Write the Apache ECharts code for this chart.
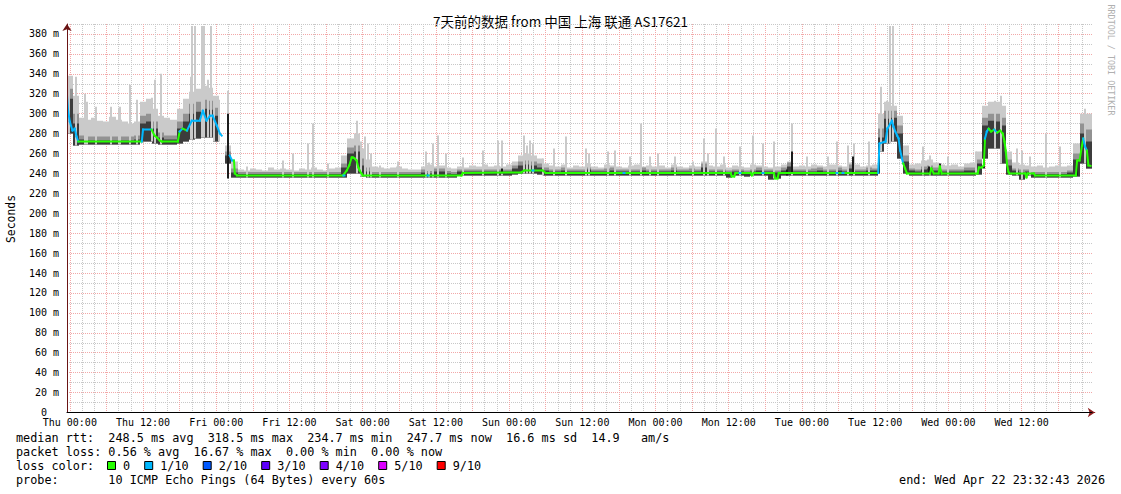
<!DOCTYPE html>
<html>
<head>
<meta charset="utf-8">
<script src="https://cdn.jsdelivr.net/npm/echarts@6/dist/echarts.min.js"></script>
<style>
html,body{margin:0;padding:0;background:#fff;}
#chart{width:1121px;height:494px;}
</style>
</head>
<body>
<div id="chart"></div>
<script>
// ---------------- DATA ----------------
const titleText = '7天前的数据 from 中国 上海 联通 AS17621';
const dayNames = ['Thu', 'Fri', 'Sat', 'Sun', 'Mon', 'Tue', 'Wed'];
// x unit: hours after Thu 00:00 ; data window starts at -0.46 h
// median rtt breakpoints [hour, ms]
const median = [
  [-0.45,318],[-0.28,303],[0,292],[0.44,283],[0.82,285],[1.1,277],[1.4,272],[11.8,272],[12.0,284],[13.4,284],[13.9,278],[14.3,276],[14.75,273],[15.1,272],[17.7,272],
  [18.0,282],[18.5,285],[19.2,283],[20.0,293],[20.8,293],[21.3,293],[21.8,303],[22.4,293],[23.0,298],[23.4,298],[24.1,288],[24.6,280],[24.9,278],[25.0,null],
  [26.2,258],[26.6,253],[26.9,253],[27.05,240],[27.4,238],[44.8,238],[45.4,243],[45.8,248],[46.2,256],[46.4,256],[46.7,255],[47.0,253],[47.3,246],[47.5,243],[47.8,240],[48.0,238],
  [64.2,238],[64.4,240.5],[74.0,241],[74.5,243],[77.5,243],[78.0,240.5],[108.3,240.5],[108.5,237],[108.9,237],[109.1,240.5],[111.6,240.5],[111.8,238],[112.1,240.5],
  [115.4,240.5],[115.6,235],[116.0,235],[116.2,240.5],[132.5,240.5],[132.7,270],[133.7,272],[134.0,285],[134.5,290],[134.75,293],[135.0,287],[135.3,282],[135.6,278],
  [135.85,275],[136.1,263],[136.4,255],[136.6,250],[136.9,245],[137.2,240],[141.0,240],[141.2,245],[141.6,240],[142.4,240],[142.6,247],[142.9,240],[148.8,240],
  [149.0,246],[149.5,246],[149.8,248],[150.0,275],[150.3,282],[150.6,285],[151.0,282],[151.5,284],[152.0,281],[152.5,283],[152.9,280],[153.2,272],[153.4,263],
  [153.6,250],[153.85,241.5],[154.0,240],[156.6,240],[156.8,236],[157.0,240],[158.0,240],[158.2,238],[164.9,238],[165.1,253],[165.5,253],[165.9,268],[166.1,275],
  [166.4,267],[166.7,263],[166.95,248],[167.3,247.7]
];
// hour ranges where packet loss was 1/10
const lossRanges = [[-0.5,1.45],[11.9,13.45],[18.1,18.6],[19.1,24.95],[26.1,26.95],[132.6,136.5],[150.1,150.7],[151.4,152.1],[166.05,166.75]];
// isolated 1/10 loss marks [hour, ms]
const lossDots = [[45.0,238],[58.7,238],[75.9,243],[90.8,240.5],[109.8,240.5],[113.6,240.5],[125.7,240.5],[126.7,240.5]];

// hourly smoke envelope (one value per hour, hour 0 = Thu 00:00)
const smokeLo = [
  280,268,269,269,269,269,269,269,269,269,269,269,272,272,270,269,269,269,270,272,274,275,276,276,
  272,null,250,236,236,236,236,236,236,236,236,236,236,236,236,236,236,236,236,236,236,236,240,240,
  237,236,236,236,236,236,236,236,236,236,236,236,236,236,236,236,238,238,238,238,238,238,238,238,
  238,239,240,240,240,239,238,238,238,238,238,238,238,238,238,238,238,238,238,238,238,238,238,238,
  238,238,238,238,238,238,238,238,238,238,238,238,236,238,238,237,238,238,238,234,235,238,238,238,
  238,238,238,238,238,238,238,238,238,238,238,238,238,262,270,272,255,240,238,238,238,238,238,238,
  238,238,238,238,238,239,255,265,265,250,239,238,234,238,236,236,236,236,236,236,236,237,250,245
];
const smokeDark = [
  315,290,274,273,273,273,273,273,273,273,273,274,290,292,285,276,274,274,285,292,300,302,305,304,
  298,null,258,241,239.5,239.5,239.5,239.5,239.5,239.5,239.5,239.5,239.5,239.5,239.5,239.5,239.5,239.5,239.5,239.5,239.5,246,260,262,
  248,242,239.5,239.5,239.5,239.5,239.5,239.5,239.5,239.5,241,240,242,242,240,239.5,242,242,242,242,242,242,242,242,
  242,245,248,249,248,246,243,242,242,243,242,242,242,244,242,242,242,243,242,242,242,242,243,242,
  242,242,242,243,242,242,242,242,246,242,242,242,240,242,242,241,242,243,242,242,241,243,247,242,
  242,242,242,243,242,242,243,242,245,242,242,243,243,276,295,296,280,252,243,242,244,245,243,242,
  242,242,242,243,243,250,288,293,292,288,248,243,241,242,239.5,239.5,239.5,239.5,239.5,239.5,241,254,280,272
];
const smokeMid = [
  325,300,278,277,277,277,277,277,277,277,277,278,298,300,292,281,278,278,292,300,310,312,314,313,
  306,null,262,245,241.5,241.5,241.5,241.5,241.5,241.5,241.5,241.5,241.5,241.5,241.5,241.5,241.5,241.5,241.5,241.5,241.5,250,266,268,
  255,246,241.5,241.5,241.5,241.5,241.5,241.5,241.5,241.5,244,242.5,245,245,242.5,241.5,244,244,244,244,244,244,244,244,
  244,248,252,253,252,250,246,244,244,246,244,244,244,246,244,244,245,246,244,244,244,244,246,244,
  244,244,244,246,244,244,245,244,250,244,244,244,243,244,244,243,244,246,244,244,243,246,251,244,
  244,244,245,246,244,244,246,244,249,244,244,246,245,285,303,303,288,258,245,244,247,248,246,244,
  244,244,244,246,246,254,296,300,300,296,254,245,244,244,241.5,241.5,241.5,241.5,241.5,241.5,243,260,290,284
];
const smokeLight = [
  338,318,296,294,296,293,292,297,294,292,290,292,312,315,305,298,296,294,305,315,322,325,328,326,
  318,null,268,252,244,243,245,244,243,246,244,245,244,243,245,244,246,244,243,245,246,258,275,280,
  265,254,247,246,245,246,247,245,244,244,247,249,247,248,246,245,247,246,248,247,249,247,248,247,
  249,252,258,260,258,255,250,248,247,249,246,248,247,250,247,246,249,248,247,246,248,249,247,248,
  247,248,246,249,247,246,248,247,252,248,247,249,246,248,247,246,249,248,247,246,247,249,252,247,
  248,247,249,248,247,249,248,247,251,249,247,248,249,300,312,308,298,268,249,250,253,254,251,249,
  248,249,247,250,251,262,308,312,312,308,262,251,249,248,247,248,246,247,248,247,248,270,300,300
];
// single light-grey ping spikes [hour, ms]
const spikes = [
  [-0.4,342],[-0.1,332],[1.0,337],[2.5,320],[2.8,312],[4.3,307],[6.8,307],[8.0,306],[8.2,307],[9.9,329],[11.0,314],[13.4,316],[13.9,334],[15.0,340],
  [19.8,337],[20.1,388],[20.5,388],[21.6,388],[22.0,388],[22.6,334],[23.1,388],[23.6,317],[24.4,314],[26.0,323],
  [29.0,247],[34.9,253],[36.6,260],[39.1,270],[39.8,290],[42.3,250],[47.0,293],[47.8,272],[48.4,277],[48.9,270],[49.3,260],[50.8,248],[53.8,252],
  [58.4,262],[58.9,251],[59.6,270],[60.4,278],[61.6,260],[64.5,256],[67.7,263],[70.2,273],[70.8,273],[74.5,278],[75.0,268],[75.4,273],[76.0,270],
  [77.6,255],[79.3,265],[81.3,277],[84.6,265],[85.1,260],[88.2,262],[89.3,263],[91.8,257],[93.6,290],[95.1,257],[96.4,260],[99.2,257],[102.1,252],
  [104.0,275],[104.6,260],[105.9,285],[107.2,257],[109.8,267],[112.0,278],[113.6,270],[115.5,272],[118.4,290],[120.8,257],[124.3,257],[125.7,272],
  [127.6,268],[128.5,270],[131.0,272],[133.0,327],[133.9,313],[134.4,388],[134.9,388],[139.9,267],[141.0,258],[144.0,257],[148.5,262],
  [151.6,313],[152.7,318],[155.2,265],[156.0,263],[157.4,257],[160.0,280],[162.3,267],[166.4,305]
];
// dark (all pings spread) columns [hour, low ms, high ms]
const darkSpikes = [[25.9,235,300],[70.8,240,245],[117.5,238,244],[118.4,240,262],[128.3,240,257],[132.65,240,271],[140.8,240,247],[142.6,240,250],[149.85,245,272],[165.0,238,253]];

const rttStats = ['248.5', '318.5', '234.7', '247.7', '16.6', '14.9'];
const lossStats = ['0.56', '16.67', '0.00', '0.00'];
const lossLevels = ['0', '1/10', '2/10', '3/10', '4/10', '5/10', '9/10'];
const lossColors = ['#26ff00', '#00b8ff', '#0059ff', '#5e00ff', '#7e00ff', '#dd00ff', '#ff0000'];
const probeText = '10 ICMP Echo Pings (64 Bytes) every 60s';
const endText = 'end: Wed Apr 22 23:32:43 2026';

// ---------------- STYLE ----------------
const MONO = "'DejaVu Sans Mono', monospace";
const C_LIGHT = '#cacaca', C_MID = '#929292', C_DARK = '#3c3c3c';
const RED = '#f2a8a8', GRAY = '#c8c8c8';
const X_MIN = -0.46, SPAN = 168;
const G_LEFT = 67, G_W = 1025, G_TOP = 24, G_H = 388.5;

// ---------------- BUILD ----------------
const nbsp = s => s.replace(/ /g, '\u00a0');
const smokeData = [];
smokeLo.forEach((lo, i) => { if (lo != null) smokeData.push([i, lo, smokeDark[i], smokeMid[i], smokeLight[i]]); });
const baseAt = h => { const i = Math.max(0, Math.min(167, Math.round(h))); return smokeLo[i] != null ? smokeLo[i] : 238; };
const spikeData = spikes.map(([h, v]) => [h, baseAt(h), v]);
const isLoss = h => lossRanges.some(([a, b]) => h >= a && h <= b);
const segData = [];
for (let k = 1; k < median.length; k++) {
  const [h0, v0] = median[k - 1], [h1, v1] = median[k];
  if (v0 == null || v1 == null) continue;
  segData.push([h0, v0, h1, v1, isLoss((h0 + h1) / 2) ? 1 : 0]);
}

function renderSmoke(params, api) {
  const i = api.value(0);
  const xa = Math.round(api.coord([i - 0.5, 0])[0]);
  const xb = Math.round(api.coord([i + 0.5, 0])[0]);
  const yLo = api.coord([i, api.value(1)])[1];
  const mk = (dim, fill) => {
    const yt = api.coord([i, api.value(dim)])[1];
    return { type: 'rect', shape: { x: xa, y: yt, width: xb - xa, height: yLo - yt }, style: { fill } };
  };
  return { type: 'group', children: [mk(4, C_LIGHT), mk(3, C_MID), mk(2, C_DARK)] };
}
function barRenderer(color, w) {
  return function (params, api) {
    const c0 = api.coord([api.value(0), api.value(1)]);
    const c1 = api.coord([api.value(0), api.value(2)]);
    const x = Math.round(c0[0]);
    return { type: 'rect', shape: { x: x - w / 2, y: c1[1], width: w, height: c0[1] - c1[1] }, style: { fill: color } };
  };
}
function renderSeg(params, api) {
  const a = api.coord([api.value(0), api.value(1)]);
  const b = api.coord([api.value(2), api.value(3)]);
  return { type: 'line', shape: { x1: a[0], y1: a[1], x2: b[0], y2: b[1] },
    style: { stroke: lossColors[api.value(4)], lineWidth: 2, lineCap: 'square' } };
}
function renderDot(params, api) {
  const c = api.coord([api.value(0), api.value(1)]);
  return { type: 'rect', shape: { x: Math.round(c[0]) - 1.5, y: c[1] - 1, width: 3, height: 2 }, style: { fill: lossColors[1] } };
}

// legend / footer graphics
const lineH = [438, 452, 466, 480];
const line1 = 'median rtt:  ' + rttStats[0] + ' ms avg  ' + rttStats[1] + ' ms max  ' + rttStats[2] + ' ms min  ' +
  rttStats[3] + ' ms now  ' + rttStats[4] + ' ms sd  ' + rttStats[5] + '   am/s';
const line2 = 'packet loss: ' + lossStats[0] + ' % avg  ' + lossStats[1] + ' % max  ' + lossStats[2] + ' % min  ' + lossStats[3] + ' % now';
const line4 = 'probe:       ' + probeText;
const FONT_L = '11.8px ' + MONO;
const graphics = [
  { type: 'text', x: 560.5, y: 21, style: { text: titleText, font: "13.5px 'Noto Sans CJK SC'", fill: '#000', align: 'center', verticalAlign: 'middle' } },
  { type: 'text', x: 11, y: 219, rotation: Math.PI / 2, style: { text: 'Seconds', font: '11.4px ' + MONO, fill: '#000', align: 'center', verticalAlign: 'middle' } },
  { type: 'text', x: 1111, y: 60, rotation: -Math.PI / 2, style: { text: nbsp('RRDTOOL / TOBI OETIKER'), font: '8.4px ' + MONO, fill: '#b0b0b0', align: 'center', verticalAlign: 'middle' } },
  { type: 'text', x: 16, y: lineH[0], style: { text: nbsp(line1), font: FONT_L, fill: '#000', verticalAlign: 'middle' } },
  { type: 'text', x: 16, y: lineH[1], style: { text: nbsp(line2), font: FONT_L, fill: '#000', verticalAlign: 'middle' } },
  { type: 'text', x: 16, y: lineH[2], style: { text: nbsp('loss color:'), font: FONT_L, fill: '#000', verticalAlign: 'middle' } },
  { type: 'text', x: 16, y: lineH[3], style: { text: nbsp(line4), font: FONT_L, fill: '#000', verticalAlign: 'middle' } },
  { type: 'text', x: 1105, y: lineH[3], style: { text: nbsp(endText), font: FONT_L, fill: '#000', align: 'right', verticalAlign: 'middle' } }
];
let lx = 107.5;
lossLevels.forEach((lab, k) => {
  graphics.push({ type: 'rect', shape: { x: lx, y: lineH[2] - 4.5, width: 8, height: 8 }, style: { fill: lossColors[k], stroke: '#000', lineWidth: 1 } });
  graphics.push({ type: 'text', x: lx + 15.5, y: lineH[2], style: { text: lab, font: FONT_L, fill: '#000', verticalAlign: 'middle' } });
  lx += 15.5 + lab.length * 7.1 + 14.6;
});

const chart = echarts.init(document.getElementById('chart'), null, { renderer: 'svg' });
const option = {
  animation: false,
  backgroundColor: '#ffffff',
  grid: [
    { left: G_LEFT, top: G_TOP, width: G_W, height: G_H, containLabel: false, outerBoundsMode: 'none' },
    { left: G_LEFT - X_MIN * G_W / SPAN, top: G_TOP, width: G_W, height: G_H, containLabel: false, outerBoundsMode: 'none' }
  ],
  xAxis: [
    { gridIndex: 0, type: 'value', min: X_MIN, max: X_MIN + SPAN, z: 6,
      axisLine: { show: true, onZero: false, lineStyle: { color: '#000', width: 1 } },
      axisTick: { show: false }, axisLabel: { show: false }, splitLine: { show: false } },
    { gridIndex: 1, type: 'value', min: 0, max: SPAN, interval: 2, z: 1,
      axisLine: { show: true, onZero: false, symbol: ['none', 'arrow'], symbolSize: [7, 7], lineStyle: { color: '#8a1c1c', width: 1 } },
      axisTick: { show: false },
      axisLabel: { show: true, margin: 5, fontFamily: MONO, fontSize: 10, color: '#000', showMinLabel: true, showMaxLabel: false,
        formatter: v => (v % 12 === 0 && v < SPAN) ? dayNames[Math.floor(v / 24)] + (v % 24 === 0 ? ' 00:00' : ' 12:00') : '' },
      splitLine: { show: true, showMinLine: true, showMaxLine: false, lineStyle: { color: [RED, GRAY, GRAY], type: [1, 1], width: 1 } } }
  ],
  yAxis: [
    { gridIndex: 0, type: 'value', min: 0, max: 390, interval: 10, z: 1,
      axisLine: { show: false }, axisTick: { show: false },
      axisLabel: { show: true, margin: 8, fontFamily: MONO, fontSize: 10, color: '#000', showMinLabel: true, showMaxLabel: false,
        formatter: v => v === 0 ? '{z|0}' : (v % 20 === 0 && v < 390 ? v + ' m' : ''),
        rich: { z: { fontFamily: MONO, fontSize: 10, color: '#000', padding: [0, 12, 0, 0] } } },
      splitLine: { show: true, showMinLine: true, showMaxLine: true, lineStyle: { color: [RED, GRAY], type: [1, 1], width: 1 } } },
    { gridIndex: 1, type: 'value', min: 0, max: 390, z: 6, offset: -X_MIN * G_W / SPAN,
      axisLine: { show: true, onZero: false, symbol: ['none', 'arrow'], symbolSize: [7, 7], lineStyle: { color: '#6a1414', width: 1 } },
      axisTick: { show: false }, axisLabel: { show: false }, splitLine: { show: false } }
  ],
  series: [
    { type: 'custom', name: 'smoke', xAxisIndex: 0, yAxisIndex: 0, clip: true, z: 2, renderItem: renderSmoke, data: smokeData, silent: true },
    { type: 'custom', name: 'spikes', xAxisIndex: 0, yAxisIndex: 0, clip: true, z: 2, renderItem: barRenderer(C_LIGHT, 2), data: spikeData, silent: true },
    { type: 'custom', name: 'dark', xAxisIndex: 0, yAxisIndex: 0, clip: true, z: 3, renderItem: barRenderer('#1c1c1c', 2), data: darkSpikes, silent: true },
    { type: 'custom', name: 'median', xAxisIndex: 0, yAxisIndex: 0, clip: true, z: 4, renderItem: renderSeg, data: segData, silent: true },
    { type: 'custom', name: 'lossdots', xAxisIndex: 0, yAxisIndex: 0, clip: true, z: 4, renderItem: renderDot, data: lossDots, silent: true }
  ],
  graphic: graphics
};
chart.setOption(option);
</script>
</body>
</html>
